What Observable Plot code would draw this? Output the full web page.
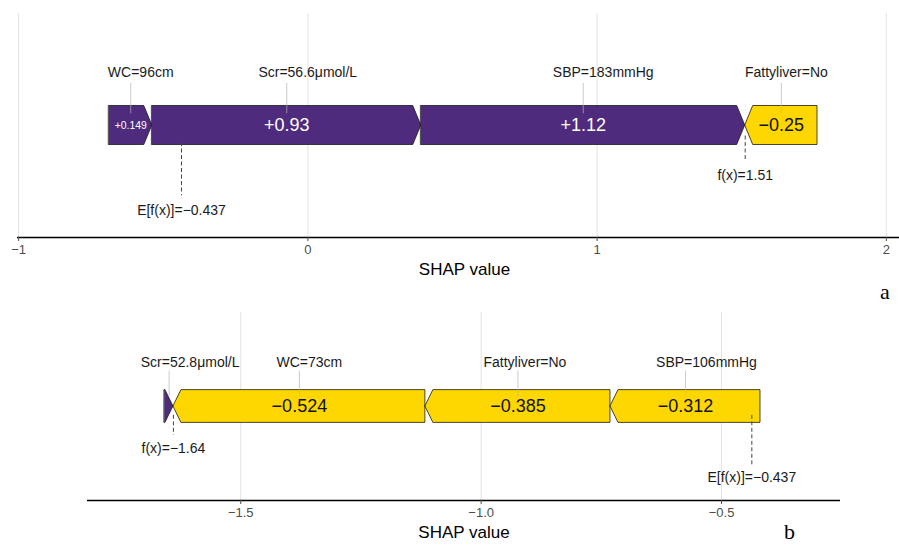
<!DOCTYPE html>
<html>
<head>
<meta charset="utf-8">
<script src="https://cdn.jsdelivr.net/npm/d3@7"></script>
<script src="https://cdn.jsdelivr.net/npm/@observablehq/plot@0.6"></script>
<style>
  html, body { margin: 0; padding: 0; background: #fff; }
  #page { position: relative; width: 899px; height: 545px; overflow: hidden; background: #fff;
          font-family: "Liberation Sans", Arial, Helvetica, sans-serif; }
  .panel { position: absolute; left: 0; }
  .panel svg { max-width: none !important; }
  .tag { position: absolute; font-family: "Liberation Serif", "Times New Roman", serif;
         font-size: 22px; line-height: 1; color: #000; }
</style>
</head>
<body>
<div id="page">
  <div class="panel" id="panelA" style="top:0px; width:911px"></div>
  <div class="panel" id="panelB" style="top:290px; width:899px"></div>
  <div class="tag" style="left:880px; top:281px">a</div>
  <div class="tag" style="left:784px; top:521px">b</div>
</div>
<script>
// Panel a: SHAP contributions for one participant
const featuresA = ["WC=96cm", "Scr=56.6μmol/L", "SBP=183mmHg", "Fattyliver=No"];
const shapA = [0.149, 0.93, 1.12, -0.25];
const baseA = -0.437;
const ticksA = [-1, 0, 1, 2];

// Panel b: SHAP contributions for a second participant
const featuresB = ["Scr=52.8μmol/L", "WC=73cm", "Fattyliver=No", "SBP=106mmHg"];
const shapB = [0.018, -0.524, -0.385, -0.312];
const baseB = -0.437;
const ticksB = [-1.5, -1.0, -0.5];

const PURPLE = "#4f2b7d";
const GOLD = "#ffd700";
const FONT = '"Liberation Sans", Arial, Helvetica, sans-serif';
const HALF = 0.5;          // half bar height in y units
const Y_DOMAIN = [-2.87, 2.87];
const HEAD_PX = 8;         // arrowhead length in pixels

const fmtBar = d3.format("+.3~g");
const fmtVal = d3.format(".3~g");

const ctx = document.createElement("canvas").getContext("2d");
function fitSize(text, availPx, maxSize) {
  ctx.font = `${maxSize}px ${FONT}`;
  const w = ctx.measureText(text).width;
  return Math.min(maxSize, maxSize * availPx / w);
}

function forcePanel({features, shap, base, ticks, tickFormat, xDomain, width, height,
                     marginLeft, marginRight, marginTop, marginBottom, labelShiftPx}) {
  const fx = base + d3.sum(shap);
  const total = d3.sum(shap, Math.abs);
  const pxPerUnit = (width - marginLeft - marginRight) / (xDomain[1] - xDomain[0]);
  const headU = HEAD_PX / pxPerUnit;

  // stack positive contributions so they end at f(x), negatives start at f(x)
  const segs = [];
  let x = fx - d3.sum(shap.filter(v => v > 0));
  shap.forEach((v, i) => { if (v > 0) { segs.push({i, feature: features[i], value: v, x0: x, x1: x + v}); x += v; } });
  x = fx;
  shap.forEach((v, i) => { if (v < 0) { segs.push({i, feature: features[i], value: v, x0: x, x1: x - v}); x -= v; } });
  segs.forEach(s => {
    s.mid = (s.x0 + s.x1) / 2;
    s.sign = s.value > 0 ? "pos" : "neg";
    s.labelX = s.mid + labelShiftPx[s.i] / pxPerUnit;
    s.text = fmtBar(s.value);
    s.size = fitSize(s.text, (s.x1 - s.x0) * pxPerUnit - HEAD_PX - 3, 18);
    s.showValue = Math.abs(s.value) / total >= 0.05;
  });

  // arrow outlines: right-pointing for positive, left-pointing for negative
  const pts = segs.flatMap(s => {
    const hw = Math.min(headU, s.x1 - s.x0);
    return s.value > 0
      ? [{id: s.i, sign: s.sign, x: s.x0, y1: -HALF, y2: HALF},
         {id: s.i, sign: s.sign, x: s.x1 - hw, y1: -HALF, y2: HALF},
         {id: s.i, sign: s.sign, x: s.x1, y1: 0, y2: 0}]
      : [{id: s.i, sign: s.sign, x: s.x0, y1: 0, y2: 0},
         {id: s.i, sign: s.sign, x: s.x0 + hw, y1: -HALF, y2: HALF},
         {id: s.i, sign: s.sign, x: s.x1, y1: -HALF, y2: HALF}];
  });

  const valueLabels = segs.filter(s => s.showValue);

  return Plot.plot({
    width, height, marginLeft, marginRight, marginTop, marginBottom,
    x: {domain: xDomain},
    y: {domain: Y_DOMAIN, axis: null},
    color: {domain: ["pos", "neg"], range: [PURPLE, GOLD]},
    style: {fontFamily: FONT, background: "transparent", overflow: "visible", maxWidth: "none"},
    marks: [
      Plot.gridX(ticks, {stroke: "#e3e3e3", strokeOpacity: 1, strokeWidth: 1}),
      Plot.areaY(pts, {x: "x", y1: "y1", y2: "y2", z: "id", fill: "sign",
                       stroke: "#1a1a1a", strokeWidth: 0.8, curve: "linear"}),
      Plot.ruleX(segs, {x: "mid", y1: 0.3, y2: 1.08, stroke: "#b5b5b5", strokeWidth: 0.7}),
      Plot.text(segs, {x: "labelX", y: 1.35, text: "feature", fontSize: 14, fill: "#1a1a1a"}),
      Plot.text(valueLabels.filter(s => s.value > 0), {x: "mid", y: 0, text: "text", fontSize: "size", fill: "white"}),
      Plot.text(valueLabels.filter(s => s.value < 0), {x: "mid", y: 0, text: "text", fontSize: "size", fill: "#111"}),
      Plot.ruleX([base], {x: d => d, y1: -0.27, y2: -1.8, stroke: "#444", strokeWidth: 1, strokeDasharray: "4,2.5"}),
      Plot.text([base], {x: d => d, y: -2.17, text: d => `E[f(x)]=${fmtVal(d)}`, fontSize: 14, fill: "#1a1a1a"}),
      Plot.ruleX([fx], {x: d => d, y1: -0.27, y2: -0.88, stroke: "#444", strokeWidth: 1, strokeDasharray: "4,2.5"}),
      Plot.text([fx], {x: d => d, y: -1.27, text: d => `f(x)=${fmtVal(d)}`, fontSize: 14, fill: "#1a1a1a"}),
      Plot.ruleY([Y_DOMAIN[0]], {stroke: "#000", strokeWidth: 1.6}),
      Plot.axisX({ticks, tickFormat, tickSize: 4, tickPadding: 3, fontSize: 13, color: "#4d4d4d", label: null}),
      Plot.text(["SHAP value"], {frameAnchor: "bottom", dy: 37, fontSize: 17, fill: "#000"})
    ]
  });
}

document.getElementById("panelA").append(forcePanel({
  features: featuresA, shap: shapA, base: baseA,
  ticks: ticksA, tickFormat: d3.format("~g"),
  xDomain: [-1.004, 2.087],
  width: 911, height: 290, marginLeft: 17, marginRight: 0, marginTop: 13, marginBottom: 53,
  labelShiftPx: [10, 21, 20, 5]
}));

document.getElementById("panelB").append(forcePanel({
  features: featuresB, shap: shapB, base: baseB,
  ticks: ticksB, tickFormat: d3.format(".1f"),
  xDomain: [-1.8187, -0.2526],
  width: 899, height: 255, marginLeft: 87, marginRight: 59, marginTop: 22, marginBottom: 45,
  labelShiftPx: [21, 10, 7, 21]
}));
</script>
</body>
</html>
